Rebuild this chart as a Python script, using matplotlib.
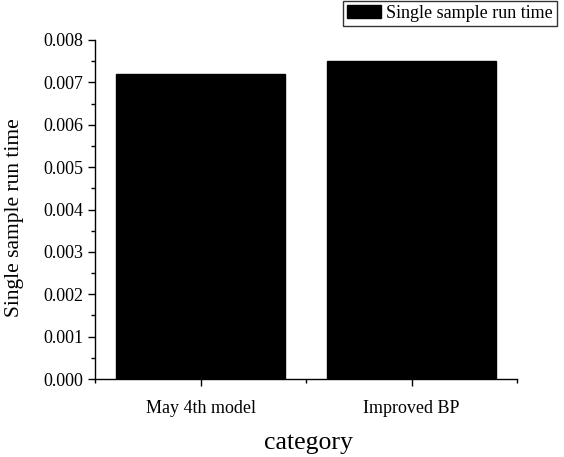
import matplotlib
matplotlib.use("Agg")
import matplotlib.pyplot as plt
from matplotlib.ticker import MultipleLocator, FixedLocator

categories = ["May 4th model", "Improved BP"]
values = [0.0072, 0.0075]
series_name = "Single sample run time"

plt.rcParams['font.family'] = ['Liberation Serif', 'DejaVu Serif']

fig = plt.figure(figsize=(5.64, 4.57), dpi=100)
W, H = 564, 457
ax = fig.add_axes([95 / W, 1 - 379 / H, (517 - 95) / W, (379 - 40) / H])

pos = [1, 2]
bars = ax.bar(pos, values, width=0.8, color='black', edgecolor='black', label=series_name)
ax.set_xlim(0.5, 2.5)
ax.set_ylim(0, 0.008)
ax.set_xticks(pos)
ax.set_xticklabels(categories, fontsize=13)
ax.xaxis.set_minor_locator(FixedLocator([0.5, 1.5, 2.5]))
ax.yaxis.set_major_locator(MultipleLocator(0.001))
ax.yaxis.set_minor_locator(MultipleLocator(0.0005))
ax.yaxis.set_major_formatter(matplotlib.ticker.FormatStrFormatter('%.3f'))
ax.tick_params(axis='y', labelsize=13)
ax.tick_params(which='major', direction='out', length=5, width=1)
ax.tick_params(which='minor', direction='out', length=3, width=1)
ax.tick_params(axis='x', pad=10)
for s in ['top', 'right']:
    ax.spines[s].set_visible(False)
for s in ['left', 'bottom']:
    ax.spines[s].set_linewidth(1)
ax.set_ylabel(series_name, fontsize=15.5, va='center')
ax.yaxis.set_label_coords((15 - 95) / 422, (379 - 218) / 339)
ax.set_xlabel("category", fontsize=18.5, va='center')
ax.xaxis.set_label_coords((308 - 95) / 422, (379 - 443) / 339)

leg = fig.legend(handles=[bars], labels=[series_name], loc='upper right',
                 bbox_to_anchor=(557 / W, 1 - 1 / H), fontsize=13,
                 frameon=True, fancybox=False, edgecolor='black',
                 borderpad=0.22, handlelength=1.9, handleheight=0.7,
                 handletextpad=0.3, borderaxespad=0)
leg.get_frame().set_linewidth(1)

fig.savefig("out.png", dpi=100)
